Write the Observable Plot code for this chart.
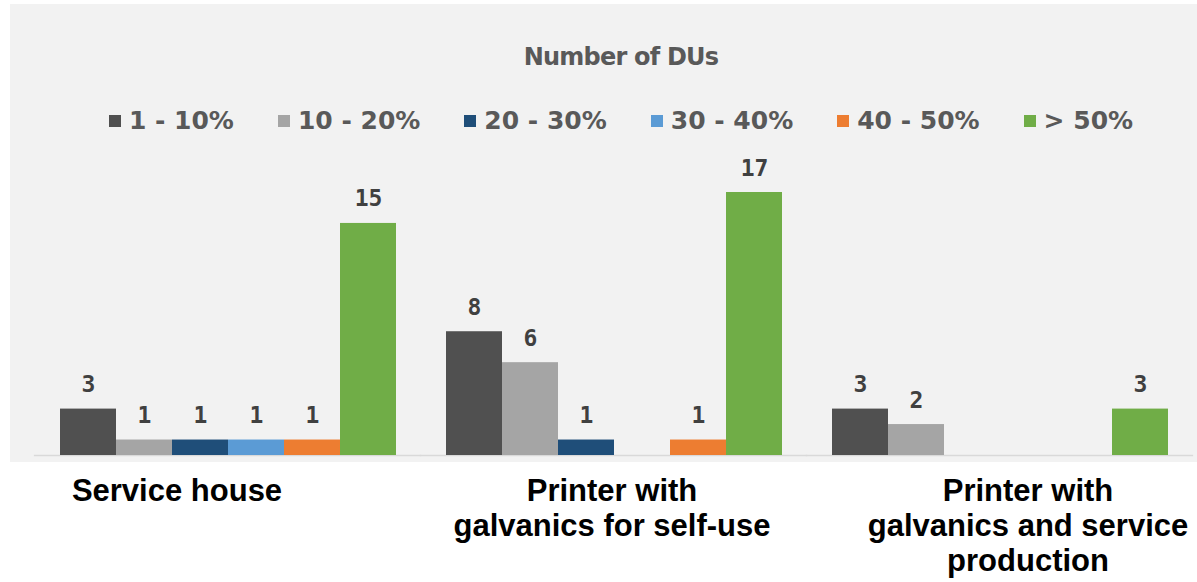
<!DOCTYPE html>
<html>
<head>
<meta charset="utf-8">
<script src="https://cdn.jsdelivr.net/npm/d3@7"></script>
<script src="https://cdn.jsdelivr.net/npm/@observablehq/plot@0.6"></script>
<style>
  html, body { margin: 0; padding: 0; background: #ffffff; overflow: hidden; }
  #wrap { position: relative; width: 1197px; height: 582px; }
  #panel { position: absolute; left: 10px; top: 4px; width: 1187px; height: 458px; background: #f2f2f2; }
  #title { position: absolute; left: 0; width: 1242px; top: 42px; text-align: center;
           font-family: "DejaVu Sans", Verdana, sans-serif; font-weight: bold; font-size: 24px;
           letter-spacing: -0.8px; color: #595959; line-height: 30px; }
  #legend { position: absolute; left: 0; width: 1242px; top: 104px; display: flex; justify-content: center;
            gap: 44px; font-family: "DejaVu Sans", Verdana, sans-serif; font-weight: bold; font-size: 25px;
            color: #595959; line-height: 34px; }
  #legend .item { display: flex; align-items: center; white-space: pre; }
  #legend .sw { width: 12px; height: 12px; margin-right: 8px; display: inline-block; }
  #chart { position: absolute; left: 0; top: 0; }
  #chart svg { overflow: visible; background: transparent; }
</style>
</head>
<body>
<div id="wrap">
  <div id="panel"></div>
  <div id="chart"></div>
  <div id="title"></div>
  <div id="legend"></div>
</div>
<script>
// ---- data ----
const chartTitle = "Number of DUs";
const categories = ["Service house", "Printer with galvanics for self-use", "Printer with galvanics and service production"];
const categoryLabels = ["Service house", "Printer with\ngalvanics for self-use", "Printer with\ngalvanics and service\nproduction"];
const bins = ["1 - 10%", "10 - 20%", "20 - 30%", "30 - 40%", "40 - 50%", "> 50%"];
const serviceHouse = [3, 1, 1, 1, 1, 15];
const printerSelfUse = [8, 6, 1, 0, 1, 17];
const printerServiceProduction = [3, 2, 0, 0, 0, 3];
const binColors = ["#505050", "#a5a5a5", "#1f4e79", "#5b9bd5", "#ed7d31", "#70ad47"];

// ---- build table ----
const seriesByCategory = [serviceHouse, printerSelfUse, printerServiceProduction];
const rows = [];
categories.forEach((c, i) => {
  bins.forEach((b, j) => {
    const v = seriesByCategory[i][j];
    if (v > 0) rows.push({category: c, bin: b, value: v});
  });
});
const labelRows = categories.map((c, i) => ({category: c, label: categoryLabels[i]}));

// ---- title and legend (HTML) ----
document.getElementById("title").textContent = chartTitle;
const legend = document.getElementById("legend");
bins.forEach((b, j) => {
  const item = document.createElement("div");
  item.className = "item";
  const sw = document.createElement("span");
  sw.className = "sw";
  sw.style.background = binColors[j];
  item.appendChild(sw);
  item.appendChild(document.createTextNode(b));
  legend.appendChild(item);
});

// ---- layout constants ----
const W = 1197, H = 582;
const mLeft = 34, mRight = 4;
const padIn = 0.1276, padOut = padIn / 2;
const step = (W - mLeft - mRight) / (categories.length - padIn + 2 * padOut);
const halfGap = step * padIn / 2;
const labelShift = new Map([[categories[0], -51], [categories[1], -2], [categories[2], 28]]);

const marks = [
  Plot.ruleY([0], {stroke: "#d9d9d9", strokeWidth: 1.5, insetLeft: -halfGap - 0.5, insetRight: -halfGap - 0.5}),
  Plot.barY(rows, {fx: "category", x: "bin", y: "value", fill: "bin"}),
  Plot.text(rows, {fx: "category", x: "bin", y: "value", text: d => String(d.value), dy: -17,
    lineAnchor: "bottom", fontFamily: "'DejaVu Sans Mono', monospace", fontWeight: "bold",
    fontSize: 23, fill: "#404040"})
];
categories.forEach(c => {
  marks.push(Plot.text(labelRows.filter(d => d.category === c), {fx: "category", text: "label",
    frameAnchor: "bottom", lineAnchor: "top", dy: 21, dx: labelShift.get(c), lineHeight: 1.13,
    fontFamily: "'Liberation Sans', Arial, sans-serif", fontWeight: "bold", fontSize: 31, fill: "#000000"}));
});

const plot = Plot.plot({
  width: W,
  height: H,
  marginLeft: mLeft,
  marginRight: mRight,
  marginTop: 192,
  marginBottom: 127,
  style: {background: "transparent", overflow: "visible"},
  fx: {domain: categories, paddingInner: padIn, paddingOuter: padOut, axis: null},
  x: {domain: bins, padding: 0, axis: null},
  y: {domain: [0, 17], axis: null},
  color: {domain: bins, range: binColors, legend: false},
  marks
});
document.getElementById("chart").appendChild(plot);
</script>
</body>
</html>
